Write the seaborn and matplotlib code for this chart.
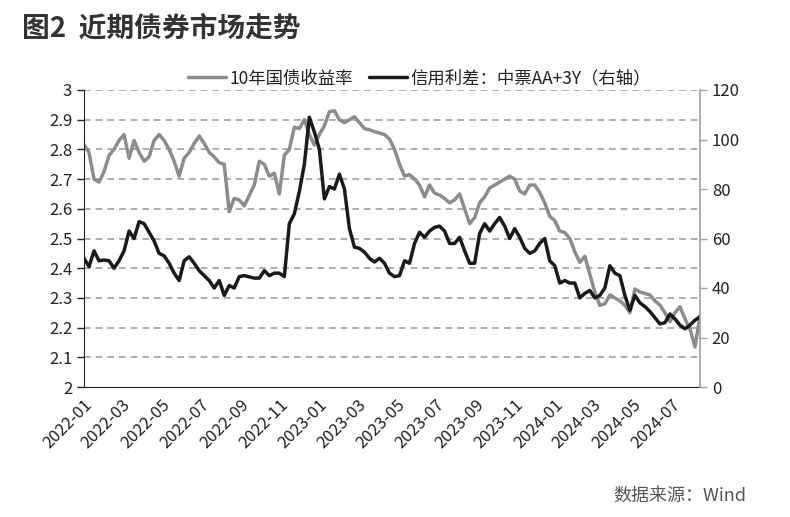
import matplotlib
matplotlib.use("Agg")
import matplotlib.pyplot as plt
import matplotlib.dates as mdates
import seaborn as sns
import pandas as pd
import numpy as np

# 10Y government bond yield (%), read roughly weekly from the chart
yield_10y = [
    2.815, 2.79, 2.70, 2.69, 2.725, 2.78, 2.80, 2.83, 2.85, 2.77,
    2.83, 2.79, 2.76, 2.775, 2.83, 2.85, 2.83, 2.80, 2.76, 2.71,
    2.77, 2.79, 2.82, 2.845, 2.82, 2.79, 2.775, 2.755, 2.75, 2.59,
    2.635, 2.63, 2.61, 2.645, 2.68, 2.76, 2.75, 2.71, 2.72, 2.65,
    2.78, 2.80, 2.875, 2.87, 2.90, 2.85, 2.815, 2.85, 2.88, 2.927,
    2.93, 2.90, 2.89, 2.90, 2.91, 2.89, 2.87, 2.866, 2.86, 2.855,
    2.85, 2.835, 2.80, 2.75, 2.71, 2.715, 2.70, 2.68, 2.64, 2.68,
    2.653, 2.646, 2.635, 2.62, 2.63, 2.65, 2.60, 2.55, 2.57, 2.62,
    2.64, 2.67, 2.68, 2.69, 2.70, 2.71, 2.70, 2.66, 2.65, 2.68,
    2.68, 2.655, 2.62, 2.575, 2.56, 2.525, 2.52, 2.50, 2.455, 2.42,
    2.44, 2.38, 2.32, 2.275, 2.28, 2.31, 2.30, 2.29, 2.275, 2.25,
    2.33, 2.32, 2.315, 2.31, 2.29, 2.276, 2.25, 2.22, 2.25, 2.27,
    2.23, 2.195, 2.135, 2.24,
]

# Credit spread: MTN AA+ 3Y (bp, right axis)
spread_aa = [
    52, 48.6, 55, 51, 51.3, 51, 48, 51, 55, 63,
    60, 66.8, 66, 62.5, 59, 54, 53, 50, 46, 43,
    51, 52.6, 50, 47, 45, 43, 40, 43, 37, 41,
    40, 44.6, 45, 44.5, 44, 44, 47, 45, 46, 46,
    44.6, 66, 70, 79, 90, 109, 103, 96, 76, 81,
    80, 86, 80, 64, 56.5, 56, 54.5, 52, 50.5, 52,
    50, 46, 44.6, 45, 51, 50, 58, 62.5, 60.5, 63,
    64.5, 65, 63, 58, 58, 60.5, 55, 50, 50, 62,
    66, 63, 66, 68.5, 65, 60, 64, 60.5, 56, 54,
    55, 58, 60, 51, 49, 42, 43, 42, 42, 36,
    37.8, 39, 36, 37, 40, 49, 46, 45, 37, 31,
    37, 34, 32.5, 30.5, 28, 25.5, 26, 29.5, 27.5, 25,
    23.5, 25, 27, 28.4,
]

start_date = "2022-01-01"
end_date = "2024-08-14"
left_ticks = [2.0, 2.1, 2.2, 2.3, 2.4, 2.5, 2.6, 2.7, 2.8, 2.9, 3.0]
right_ticks = [0, 20, 40, 60, 80, 100, 120]
label_yield = "10年国债收益率"
label_spread = "信用利差：中票AA+3Y（右轴）"
title = "图2  近期债券市场走势"
source = "数据来源：Wind"

dates = pd.date_range(start_date, end_date, periods=len(yield_10y))
df = pd.DataFrame({"date": dates, "yield": yield_10y, "spread": spread_aa})

sns.set_style("white")
plt.rcParams["font.family"] = ["Noto Sans CJK SC", "DejaVu Sans"]
plt.rcParams["axes.unicode_minus"] = False

fig = plt.figure(figsize=(7.9, 5.17), dpi=100)
ax = fig.add_axes([84 / 790, 1 - 387 / 517, (700 - 84) / 790, (387 - 90) / 517])
ax2 = ax.twinx()

gray = "#8c8c8c"
black = "#1a1a1a"

sns.lineplot(data=df, x="date", y="yield", ax=ax, color=gray, lw=2.5,
             label=label_yield, legend=False)
sns.lineplot(data=df, x="date", y="spread", ax=ax2, color=black, lw=2.5,
             label=label_spread, legend=False)

ax.set_xlim(pd.Timestamp(start_date), pd.Timestamp(end_date))
ax.set_ylim(2.0, 3.0)
ax2.set_ylim(0, 120)
ax.set_yticks(left_ticks)
ax.set_yticklabels([("%g" % v) for v in left_ticks])
ax2.set_yticks(right_ticks)
ax2.set_yticklabels([str(v) for v in right_ticks])

ax.xaxis.set_major_locator(mdates.MonthLocator(bymonth=[1, 3, 5, 7, 9, 11]))
ax.xaxis.set_major_formatter(mdates.DateFormatter("%Y-%m"))
for lab in ax.get_xticklabels():
    lab.set_rotation(45)
    lab.set_ha("right")
    lab.set_rotation_mode("anchor")

ax.set_xlabel("")
ax.set_ylabel("")
ax2.set_ylabel("")

for t in left_ticks[1:]:
    ax.axhline(t, color="#a0a0a0", lw=1.2, ls=(0, (4, 3)), zorder=0)

for s in ["top"]:
    ax.spines[s].set_visible(False)
    ax2.spines[s].set_visible(False)
ax.spines["left"].set_color("#222222")
ax.spines["bottom"].set_color("#222222")
ax2.spines["left"].set_visible(False)
ax2.spines["bottom"].set_visible(False)
ax2.spines["right"].set_color("#a0a0a0")
ax2.spines["right"].set_linewidth(1.2)
ax.spines["right"].set_visible(False)

ax.tick_params(axis="both", direction="out", length=5, width=1, color="#222222",
               labelsize=12, labelcolor="#222222")
ax.tick_params(axis="x", pad=2)
ax2.tick_params(axis="y", direction="out", length=5, width=1, color="#a0a0a0",
                labelsize=12, labelcolor="#222222")

h1, l1 = ax.get_legend_handles_labels()
h2, l2 = ax2.get_legend_handles_labels()
leg = ax.legend(h1 + h2, l1 + l2, loc="lower center", bbox_to_anchor=(0.545, 0.985),
                ncol=2, frameon=False, fontsize=12.5, handlelength=2.2,
                columnspacing=0.9, handletextpad=0.2, borderaxespad=0)
for t in leg.get_texts():
    t.set_color("#222222")

fig.text(22 / 790, 1 - 28 / 517, title, fontsize=20, fontweight="bold",
         color="#333333", ha="left", va="center")
fig.text(746 / 790, 1 - 496 / 517, source, fontsize=13, color="#555555",
         ha="right", va="center")

fig.savefig("out.png", dpi=100)
